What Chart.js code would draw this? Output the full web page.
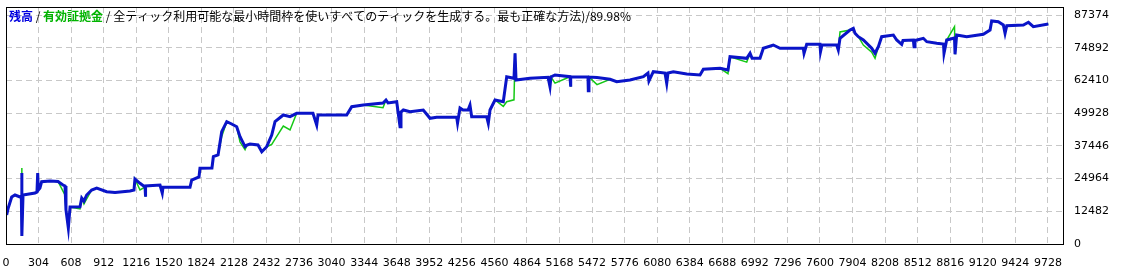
<!DOCTYPE html>
<html>
<head>
<meta charset="utf-8">
<script src="https://cdn.jsdelivr.net/npm/chart.js@4.4.1/dist/chart.umd.min.js"></script>
<style>
  html, body { margin: 0; padding: 0; background: #fff; }
  canvas { display: block; }
</style>
</head>
<body>
<canvas id="equityChart" width="1124" height="280"></canvas>
<script>
'use strict';

/* ---- data ---- */
const xTicks = [0, 304, 608, 912, 1216, 1520, 1824, 2128, 2432, 2736, 3040, 3344, 3648, 3952, 4256, 4560,
    4864, 5168, 5472, 5776, 6080, 6384, 6688, 6992, 7296, 7600, 7904, 8208, 8512, 8816, 9120, 9424, 9728];
const yTicks = [0, 12482, 24964, 37446, 49928, 62410, 74892, 87374];

const trades = [
    6, 21, 53, 84, 131, 143, 147, 149, 159, 271,
    289, 296, 302, 317, 333, 411, 486, 532, 551, 560,
    582, 598, 691, 707, 728, 753, 800, 847, 940, 1018,
    1158, 1195, 1204, 1251, 1298, 1299, 1307, 1438, 1459, 1466,
    1718, 1734, 1802, 1811, 1923, 1936, 1980, 2014, 2061, 2107,
    2154, 2185, 2232, 2250, 2278, 2353, 2388, 2434, 2481, 2512,
    2589, 2652, 2714, 2866, 2901, 2913, 3181, 3228, 3336, 3520,
    3548, 3567, 3648, 3679, 3688, 3710, 3772, 3896, 3959, 4021,
    4208, 4216, 4239, 4267, 4314, 4332, 4348, 4488, 4503, 4519,
    4566, 4643, 4675, 4743, 4753, 4762, 4893, 5061, 5079, 5088,
    5126, 5266, 5270, 5275, 5434, 5437, 5443, 5518, 5640, 5702,
    5826, 5951, 5994, 6003, 6044, 6153, 6169, 6181, 6231, 6356,
    6480, 6511, 6667, 6741, 6760, 6916, 6947, 6966, 7040, 7071,
    7164, 7227, 7320, 7444, 7451, 7476, 7600, 7605, 7619, 7756,
    7771, 7787, 7880, 7911, 7927, 7958, 8005, 8083, 8114, 8145,
    8176, 8285, 8316, 8363, 8375, 8472, 8478, 8487, 8565, 8597,
    8690, 8753, 8758, 8783, 8856, 8861, 8876, 8970, 9125, 9188,
    9203, 9265, 9312, 9328, 9344, 9499, 9546, 9592, 9732
];

const balance = [
    11065, 13736, 17933, 18696, 17933, 18314, 27090, 3052, 18696, 19459,
    19841, 27090, 20604, 21367, 23771, 24038, 23847, 22511, 22130, 12973,
    6105, 14117, 14232, 17551, 16407, 18696, 20604, 21367, 19955, 19650,
    20222, 20604, 24801, 23160, 21748, 18047, 22130, 22511, 19459, 21634,
    21634, 24419, 25564, 28883, 28998, 33309, 33958, 42848, 46664, 45786,
    44756, 40940, 37125, 37773, 38155, 37773, 35217, 37125, 41589, 46664,
    49220, 48572, 49869, 49869, 45404, 49220, 49220, 52387, 53035, 53799,
    54943, 53799, 54295, 44756, 50365, 51128, 50479, 51128, 47961, 48342,
    48342, 46168, 51891, 51128, 51128, 53035, 48572, 48572, 46053, 51128,
    54943, 54295, 63833, 63223, 72762, 62574, 63223, 63604, 60018, 63719,
    64482, 63833, 60018, 63719, 63719, 58492, 63719, 63528, 62841, 61925,
    62574, 63833, 65245, 62193, 65740, 65245, 61315, 65245, 65740, 64864,
    64482, 66657, 67039, 66390, 71464, 70854, 72762, 70854, 70854, 74668,
    75928, 74668, 74668, 74668, 72762, 76195, 76195, 73372, 76005, 75928,
    74021, 78485, 81652, 82300, 80393, 79095, 77836, 74668, 72762, 75280,
    79095, 79744, 77836, 76195, 77645, 77836, 75280, 77645, 78485, 77187,
    76577, 76310, 72762, 77836, 78599, 72380, 79744, 79095, 80011, 81652,
    85086, 84819, 83559, 80393, 83293, 83559, 84590, 82911, 83941
];

const equity = [
    11065, 13736, 17933, 18696, 17933, 18314, 29000, 3052, 18696, 19459,
    19841, 27090, 20604, 21367, 23771, 24038, 23847, 20200, 18700, 12973,
    6105, 14117, 13400, 17551, 15300, 17200, 20604, 21367, 19955, 19650,
    20222, 20604, 24801, 20600, 21748, 18047, 22130, 22511, 19459, 21634,
    21634, 24419, 25564, 28883, 28998, 33309, 33958, 41000, 46664, 45786,
    44756, 38900, 36000, 37773, 38155, 37773, 35217, 37125, 38000, 40000,
    45000, 43500, 49869, 49869, 45404, 49220, 49220, 52387, 53035, 52000,
    54943, 53799, 54295, 44756, 50365, 51128, 50479, 51128, 47961, 48342,
    48342, 46168, 51891, 51128, 51128, 53035, 48572, 48572, 46053, 51128,
    54943, 52500, 54300, 55000, 72762, 62574, 63223, 63604, 60018, 63719,
    61400, 63833, 60018, 63719, 63719, 58492, 63719, 60800, 62841, 61925,
    62574, 63833, 65245, 62193, 65740, 65245, 61315, 65245, 65740, 64864,
    64482, 66657, 67039, 65000, 71464, 69400, 72762, 70854, 70854, 74668,
    75928, 74668, 74668, 74668, 72762, 76195, 76195, 73372, 76005, 75928,
    74021, 80900, 81652, 82300, 80393, 79095, 75900, 73200, 70850, 75280,
    79095, 79744, 77836, 76195, 77645, 77836, 75280, 77645, 78485, 77187,
    76577, 76310, 72762, 77836, 82900, 72380, 79744, 79095, 80011, 81652,
    85086, 84819, 83559, 80393, 83293, 83559, 84590, 82911, 83941
];

const titleParts = [
    { text: '残高', color: '#0000E0', bold: true },
    { text: ' / ', color: '#000000', bold: false },
    { text: '有効証拠金', color: '#00B400', bold: true },
    { text: ' / 全ティック利用可能な最小時間枠を使いすべてのティックを生成する。最も正確な方法)/89.98%', color: '#000000', bold: false },
];

const BLUE = '#0A14C8';
const GREEN = '#14C814';
const GRID = '#C8C8C8';
const FONT = '"DejaVu Sans", sans-serif';

/* ---- frame + caption drawn on top of the plot ---- */
const framePlugin = {
    id: 'frame',
    afterDraw(chart) {
        const { ctx, chartArea: a } = chart;
        ctx.save();
        ctx.strokeStyle = '#000';
        ctx.lineWidth = 1;
        ctx.strokeRect(Math.round(a.left) + 0.5, Math.round(a.top) + 0.5,
            Math.round(a.right - a.left), Math.round(a.bottom - a.top));

        ctx.textBaseline = 'middle';
        let x = a.left + 3;
        titleParts.forEach(p => {
            ctx.font = (p.bold ? 'bold ' : '') + '12px "Noto Sans CJK JP", sans-serif';
            ctx.fillStyle = p.color;
            ctx.fillText(p.text, x, a.top + 9);
            x += ctx.measureText(p.text).width;
        });
        ctx.restore();
    },
};

const toPoints = ys => trades.map((t, i) => ({ x: t, y: ys[i] }));
const plain = v => String(v);

new Chart(document.getElementById('equityChart').getContext('2d'), {
    type: 'line',
    data: {
        datasets: [
            { label: '残高', data: toPoints(balance), borderColor: BLUE, borderWidth: 3, pointRadius: 0, tension: 0, order: 0 },
            { label: '有効証拠金', data: toPoints(equity), borderColor: GREEN, borderWidth: 1.5, pointRadius: 0, tension: 0, order: 1 },
        ],
    },
    options: {
        responsive: false,
        animation: false,
        devicePixelRatio: 1,
        layout: { padding: { left: 6, top: 7, right: 0, bottom: 0 } },
        plugins: { legend: { display: false }, tooltip: { enabled: false } },
        scales: {
            x: {
                type: 'linear',
                min: 0,
                max: 9869,
                afterBuildTicks: s => { s.ticks = xTicks.map(v => ({ value: v })); },
                afterFit: s => { s.height = 36; s.paddingLeft = 0; s.paddingRight = 0; },
                ticks: { autoSkip: false, maxRotation: 0, padding: 13, color: '#000', font: { family: FONT, size: 11 }, callback: plain },
                grid: { color: GRID, lineWidth: 1, drawTicks: false },
                border: { display: false, dash: [6, 4] },
            },
            y: {
                position: 'right',
                min: 0,
                max: 90427,
                afterBuildTicks: s => { s.ticks = yTicks.map(v => ({ value: v })); },
                afterFit: s => { s.width = 61; s.paddingTop = 0; s.paddingBottom = 0; },
                ticks: { padding: 11, color: '#000', font: { family: FONT, size: 11 }, callback: plain },
                grid: { color: GRID, lineWidth: 1, drawTicks: false },
                border: { display: false, dash: [6, 4] },
            },
        },
    },
    plugins: [framePlugin],
});
</script>
</body>
</html>
